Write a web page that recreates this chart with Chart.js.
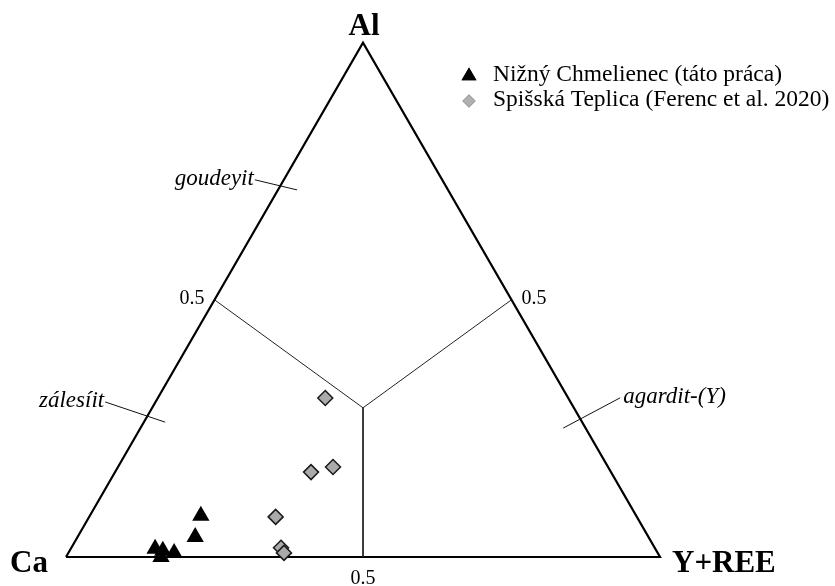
<!DOCTYPE html>
<html>
<head>
<meta charset="utf-8">
<script src="https://cdn.jsdelivr.net/npm/chart.js@4/dist/chart.umd.min.js"></script>
<style>
  html, body { margin: 0; padding: 0; background: #fff; }
  #wrap { width: 835px; height: 586px; }
</style>
</head>
<body>
<div id="wrap"><canvas id="c" width="835" height="586"></canvas></div>
<script>
// Ternary compositions (atomic proportions Ca : Al : Y+REE)
const seriesNames = ['Nižný Chmelienec (táto práca)', 'Spišská Teplica (Ferenc et al. 2020)'];

const nizCa   = [0.733, 0.763, 0.842, 0.831, 0.814, 0.840];
const nizAl   = [0.080, 0.039, 0.016, 0.012, 0.008, 0.000];
const nizYree = [0.187, 0.198, 0.142, 0.157, 0.178, 0.160];

const spiCa   = [0.409, 0.505, 0.463, 0.608, 0.629, 0.629];
const spiAl   = [0.309, 0.165, 0.175, 0.078, 0.018, 0.008];
const spiYree = [0.282, 0.330, 0.362, 0.314, 0.353, 0.363];

// Field boundaries: side midpoints and the common junction
const junction = { ca: 0.355, al: 0.290, yree: 0.355 };
const midCaAl  = { ca: 0.5, al: 0.5, yree: 0 };
const midAlY   = { ca: 0, al: 0.5, yree: 0.5 };
const midCaY   = { ca: 0.5, al: 0, yree: 0.5 };

const axisTick = '0.5';
const apexNames = { al: 'Al', ca: 'Ca', yree: 'Y+REE' };
const fieldNames = ['goudeyit', 'zálesíit', 'agardit-(Y)'];

const H = Math.sqrt(3) / 2;
function tern(ca, al, yree) {
  const s = ca + al + yree;
  const a = al / s, y = yree / s;
  return { x: y + a / 2, y: a * H };
}
const P = (o) => tern(o.ca, o.al, o.yree);

const nizPts = nizCa.map((c, i) => tern(c, nizAl[i], nizYree[i]));
const spiPts = spiCa.map((c, i) => tern(c, spiAl[i], spiYree[i]));

const outline = [tern(1, 0, 0), tern(0, 0, 1), tern(0, 1, 0), tern(1, 0, 0)];

const serif = '"Liberation Serif", "Times New Roman", serif';

const decor = {
  id: 'decor',
  afterDatasetsDraw(chart) {
    const ctx = chart.ctx;
    const xs = chart.scales.x, ys = chart.scales.y;
    const px = (p) => [xs.getPixelForValue(p.x), ys.getPixelForValue(p.y)];
    ctx.save();
    ctx.fillStyle = '#000';

    // apex labels
    ctx.font = 'bold 31px ' + serif;
    ctx.textBaseline = 'alphabetic';
    const [ax, ay] = px(tern(0, 1, 0));
    ctx.textAlign = 'center';
    ctx.fillText(apexNames.al, ax + 1, ay - 8);
    const [cx, cy] = px(tern(1, 0, 0));
    ctx.textAlign = 'right';
    ctx.fillText(apexNames.ca, cx - 18, cy + 15);
    const [yx, yy] = px(tern(0, 0, 1));
    ctx.textAlign = 'left';
    ctx.fillText(apexNames.yree, yx + 12, yy + 15);

    // 0.5 ticks
    ctx.font = '20px ' + serif;
    ctx.textBaseline = 'middle';
    let [tx, ty] = px(P(midCaAl));
    ctx.textAlign = 'right';
    ctx.fillText(axisTick, tx - 10, ty - 1);
    [tx, ty] = px(P(midAlY));
    ctx.textAlign = 'left';
    ctx.fillText(axisTick, tx + 10, ty - 1);
    [tx, ty] = px(P(midCaY));
    ctx.textAlign = 'center';
    ctx.fillText(axisTick, tx, ty + 22);

    // field names with leader lines (plot units)
    const leaders = [
      { name: fieldNames[0], from: { x: 0.318, y: 0.635 }, to: { x: 0.389, y: 0.618 }, align: 'right' },
      { name: fieldNames[1], from: { x: 0.066, y: 0.261 }, to: { x: 0.167, y: 0.227 }, align: 'right' },
      { name: fieldNames[2], from: { x: 0.933, y: 0.268 }, to: { x: 0.837, y: 0.217 }, align: 'left' }
    ];
    ctx.strokeStyle = '#111';
    ctx.lineWidth = 1;
    ctx.font = 'italic 23px ' + serif;
    leaders.forEach(l => {
      const [x1, y1] = px(l.from), [x2, y2] = px(l.to);
      ctx.beginPath();
      ctx.moveTo(x1, y1);
      ctx.lineTo(x2, y2);
      ctx.stroke();
      ctx.textAlign = l.align;
      ctx.fillText(l.name, l.align === 'right' ? x1 - 1 : x1 + 3, y1 - 1);
    });

    // legend
    const lx = 469, ly = [75, 100];
    ctx.font = '23.5px ' + serif;
    ctx.textAlign = 'left';
    ctx.textBaseline = 'middle';
    const styles = [
      { style: 'triangle', r: 8.6, fill: '#000' },
      { style: 'rectRot', r: 6.5, fill: '#b0b0b0' }
    ];
    styles.forEach((s, i) => {
      Chart.helpers.drawPoint(ctx, { pointStyle: s.style, radius: s.r, rotation: 0, borderWidth: 0 }, lx, ly[i] + 1);
      ctx.fillStyle = s.fill;
      ctx.fill();
      ctx.fillStyle = '#000';
      ctx.fillText(seriesNames[i], lx + 24, ly[i]);
    });
    ctx.restore();
  }
};

new Chart(document.getElementById('c'), {
  type: 'scatter',
  data: {
    datasets: [
      {
        label: seriesNames[1],
        data: spiPts,
        pointStyle: 'rectRot',
        pointRadius: 7.5,
        backgroundColor: '#aaaaaa',
        borderColor: '#1a1a1a',
        borderWidth: 1.5,
        clip: false
      },
      {
        label: seriesNames[0],
        data: nizPts,
        pointStyle: 'triangle',
        pointRadius: 10,
        backgroundColor: '#000',
        borderColor: '#000',
        borderWidth: 0,
        clip: false
      },
      {
        type: 'line',
        data: [P(midCaAl), P(junction), P(midAlY)],
        borderColor: '#222',
        borderWidth: 1,
        pointRadius: 0,
        fill: false,
        clip: false
      },
      {
        type: 'line',
        data: [P(junction), P(midCaY)],
        borderColor: '#222',
        borderWidth: 1,
        pointRadius: 0,
        fill: false,
        clip: false
      },
      {
        type: 'line',
        data: outline,
        borderColor: '#000',
        borderWidth: 2.2,
        pointRadius: 0,
        fill: false,
        clip: false,
        borderJoinStyle: 'miter'
      }
    ]
  },
  options: {
    responsive: false,
    animation: false,
    events: [],
    layout: { padding: { left: 66, right: 175, top: 557 - 594 * H, bottom: 29 } },
    scales: {
      x: { type: 'linear', min: 0, max: 1, display: false },
      y: { type: 'linear', min: 0, max: H, display: false }
    },
    plugins: {
      legend: { display: false },
      tooltip: { enabled: false }
    }
  },
  plugins: [decor]
});
</script>
</body>
</html>
